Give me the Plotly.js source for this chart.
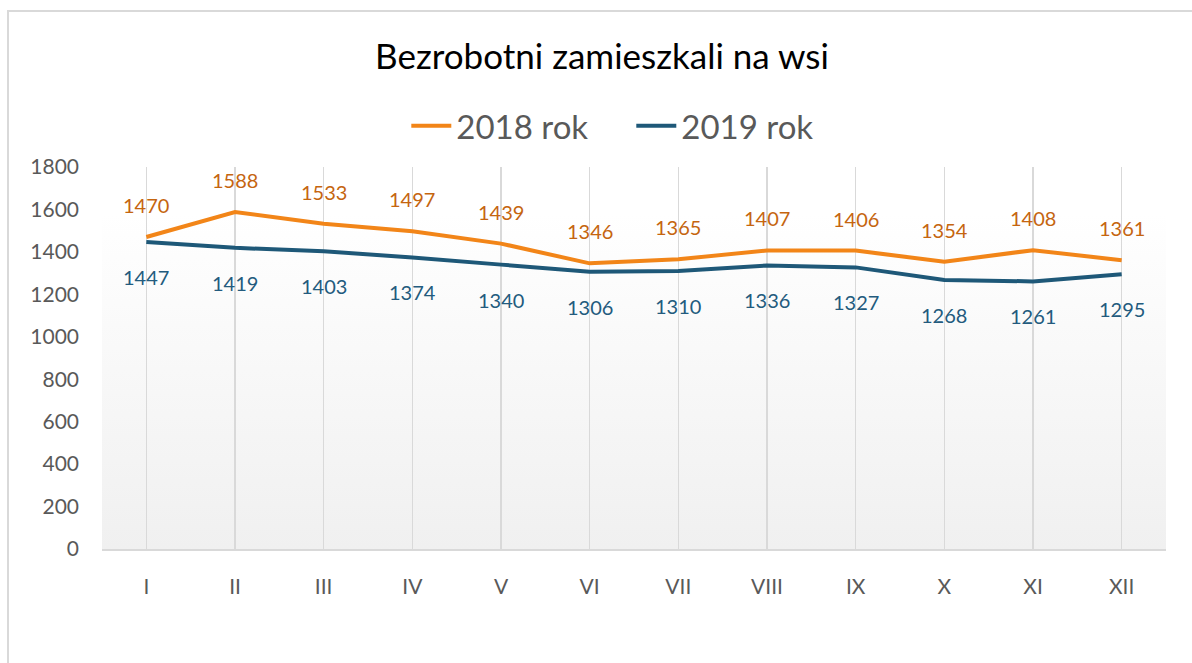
<!DOCTYPE html>
<html>
<head>
<meta charset="utf-8">
<script src="https://cdn.plot.ly/plotly-3.0.1.min.js"></script>
<style>
  html, body { margin: 0; padding: 0; background: #ffffff; }
  #wrap { position: relative; width: 1192px; height: 663px; overflow: hidden; }
  #chart { width: 1192px; height: 663px; }
  #frame { position: absolute; left: 7px; top: 10px; width: 1200px; height: 700px;
           border: 2px solid #d9d9d9; pointer-events: none; box-sizing: border-box; }
</style>
</head>
<body>
<div id="wrap">
  <div id="chart"></div>
  <div id="frame"></div>
</div>
<script>
const months = ["I", "II", "III", "IV", "V", "VI", "VII", "VIII", "IX", "X", "XI", "XII"];
const values2018 = [1470, 1588, 1533, 1497, 1439, 1346, 1365, 1407, 1406, 1354, 1408, 1361];
const values2019 = [1447, 1419, 1403, 1374, 1340, 1306, 1310, 1336, 1327, 1268, 1261, 1295];
const seriesNames = ["2018 rok", "2019 rok"];
const yTicks = [0, 200, 400, 600, 800, 1000, 1200, 1400, 1600, 1800];

const FONT = "Lato, 'Open Sans', sans-serif";
const orange = "#f28518";
const orangeText = "#c5650f";
const blue = "#1e5878";
const blueText = "#235b7e";

const traces = [
  { x: months, y: values2018, name: seriesNames[0], type: "scatter", mode: "lines",
    line: { color: orange, width: 4 }, hoverinfo: "skip" },
  { x: months, y: values2019, name: seriesNames[1], type: "scatter", mode: "lines",
    line: { color: blue, width: 4 }, hoverinfo: "skip" }
];

const annotations = [];
months.forEach((m, i) => {
  annotations.push({ x: m, y: values2018[i], xref: "x", yref: "y", text: String(values2018[i]),
    showarrow: false, yshift: 32, font: { family: FONT, size: 20, color: orangeText } });
  annotations.push({ x: m, y: values2019[i], xref: "x", yref: "y", text: String(values2019[i]),
    showarrow: false, yshift: -35, font: { family: FONT, size: 20, color: blueText } });
});

const gradSvg = '<svg xmlns="http://www.w3.org/2000/svg" width="100" height="100" preserveAspectRatio="none">' +
  '<defs><linearGradient id="g" x1="0" y1="0" x2="0" y2="1">' +
  '<stop offset="0" stop-color="#ffffff"/><stop offset="0.12" stop-color="#ffffff"/>' +
  '<stop offset="1" stop-color="#f0f0f0"/></linearGradient></defs>' +
  '<rect width="100" height="100" fill="url(#g)"/></svg>';

const layout = {
  width: 1192, height: 663,
  margin: { l: 102, r: 26, t: 167, b: 114, pad: 0 },
  paper_bgcolor: "rgba(0,0,0,0)",
  plot_bgcolor: "rgba(0,0,0,0)",
  font: { family: FONT, color: "#595959" },
  title: { text: "Bezrobotni zamieszkali na wsi", x: 0.505, xanchor: "center",
           y: 0.915, yanchor: "middle", yref: "container",
           font: { family: FONT, size: 35, color: "#000000" } },
  showlegend: true,
  legend: { orientation: "h", x: 0.286, xanchor: "left", y: 1.108, yanchor: "middle",
            yref: "paper",
            font: { family: FONT, size: 33, color: "#595959" },
            itemwidth: 40, entrywidth: 170, entrywidthmode: "pixels",
            tracegroupgap: 0, bgcolor: "rgba(0,0,0,0)" },
  xaxis: {
    type: "category", categoryorder: "array", categoryarray: months,
    range: [-0.5, months.length - 0.5], autorange: false,
    showgrid: true, gridcolor: "#d9d9d9", gridwidth: 1.5,
    showline: true, linecolor: "#d9d9d9", linewidth: 2,
    ticks: "", ticklabelstandoff: 18,
    tickfont: { family: FONT, size: 21, color: "#595959" },
    zeroline: false, fixedrange: true
  },
  yaxis: {
    range: [0, 1800], tickvals: yTicks, ticktext: yTicks.map(String),
    showgrid: false, zeroline: false, showline: false,
    ticks: "", ticklabelstandoff: 22,
    tickfont: { family: FONT, size: 21, color: "#595959" },
    fixedrange: true
  },
  images: [{
    source: "data:image/svg+xml;charset=utf-8," + encodeURIComponent(gradSvg),
    xref: "paper", yref: "paper", x: 0, y: 1, sizex: 1, sizey: 1,
    sizing: "stretch", xanchor: "left", yanchor: "top", layer: "below", opacity: 1
  }],
  annotations: annotations
};

Plotly.newPlot("chart", traces, layout, { displayModeBar: false, staticPlot: true });
</script>
</body>
</html>
